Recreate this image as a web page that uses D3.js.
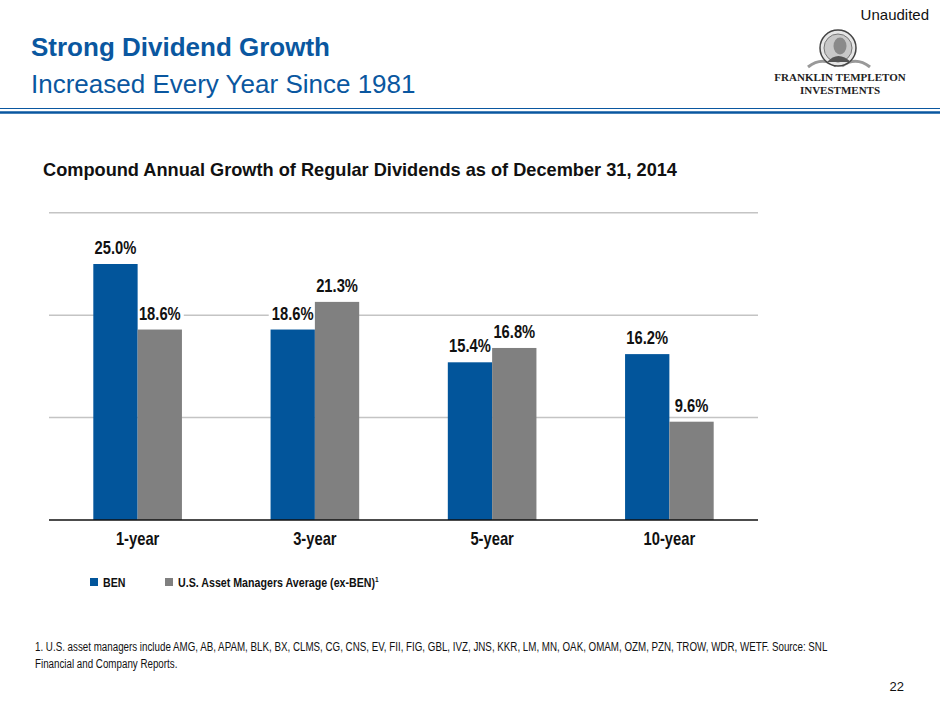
<!DOCTYPE html>
<html>
<head>
<meta charset="utf-8">
<script src="https://cdn.jsdelivr.net/npm/d3@7"></script>
<style>
  html, body { margin: 0; padding: 0; background: #fff; }
  svg { display: block; }
  .sans, .narrow { font-family: Arial, "Liberation Sans", Helvetica, sans-serif; }
  .serif { font-family: "Liberation Serif", "Times New Roman", serif; }
</style>
</head>
<body>
<svg id="chart" width="940" height="705"></svg>
<script>
// ---- data ----
const categories = ["1-year", "3-year", "5-year", "10-year"];
const seriesNames = ["BEN", "U.S. Asset Managers Average (ex-BEN)"];
const benValues = [25.0, 18.6, 15.4, 16.2];
const peerValues = [18.6, 21.3, 16.8, 9.6];
const yTicks = [10, 20, 30];

const colors = ["#02559b", "#808080"];
const NARROW = 0.82;

const svg = d3.select("#chart");

// narrow text helper: positioned via transform, horizontally compressed
function narrowText(sel, x, yy, s) {
  return sel.append("text").attr("class", "narrow")
    .attr("transform", `translate(${x},${yy}) scale(${s || NARROW},1)`);
}

// ---- header ----
svg.append("text").attr("class", "sans").attr("x", 31).attr("y", 56)
  .attr("font-size", 26).attr("font-weight", "bold").attr("fill", "#0a57a0")
  .text("Strong Dividend Growth");
svg.append("text").attr("class", "sans").attr("x", 31).attr("y", 93)
  .attr("font-size", 26).attr("fill", "#0a57a0")
  .text("Increased Every Year Since 1981");
svg.append("line").attr("x1", 0).attr("x2", 940).attr("y1", 108.5).attr("y2", 108.5)
  .attr("stroke", "#0a57a0").attr("stroke-width", 1);
svg.append("line").attr("x1", 0).attr("x2", 940).attr("y1", 112.5).attr("y2", 112.5)
  .attr("stroke", "#0a57a0").attr("stroke-width", 2.5);

svg.append("text").attr("class", "sans").attr("x", 929).attr("y", 20)
  .attr("text-anchor", "end").attr("font-size", 15).attr("fill", "#111")
  .text("Unaudited");

// logo (simplified medallion)
const logo = svg.append("g");
logo.append("path").attr("d", "M808,67 Q822,56 836,66 M870,67 Q856,56 842,66")
  .attr("fill", "none").attr("stroke", "#999").attr("stroke-width", 3);
logo.append("ellipse").attr("cx", 838).attr("cy", 48).attr("rx", 18).attr("ry", 18)
  .attr("fill", "#e6e6e6").attr("stroke", "#444").attr("stroke-width", 1.5);
logo.append("ellipse").attr("cx", 838).attr("cy", 48).attr("rx", 14).attr("ry", 14)
  .attr("fill", "#c8c8c8").attr("stroke", "#777").attr("stroke-width", 1);
logo.append("ellipse").attr("cx", 840).attr("cy", 46).attr("rx", 6.5).attr("ry", 8.5)
  .attr("fill", "#8a8a8a");
logo.append("path").attr("d", "M827,62 Q838,50 851,62 Z").attr("fill", "#555");
logo.append("text").attr("class", "serif").attr("x", 840).attr("y", 81)
  .attr("text-anchor", "middle").attr("font-size", 11).attr("font-weight", "bold")
  .attr("fill", "#222").text("FRANKLIN TEMPLETON");
logo.append("text").attr("class", "serif").attr("x", 840).attr("y", 94)
  .attr("text-anchor", "middle").attr("font-size", 11).attr("font-weight", "bold")
  .attr("fill", "#222").text("INVESTMENTS");

// chart title
svg.append("text").attr("class", "sans").attr("x", 43).attr("y", 176)
  .attr("font-size", 18.2).attr("font-weight", "bold").attr("fill", "#111")
  .text("Compound Annual Growth of Regular Dividends as of December 31, 2014");

// ---- scales ----
const x0 = d3.scaleBand().domain(categories).range([49, 758])
  .paddingInner(0.5).paddingOuter(0.25);
const x1 = d3.scaleBand().domain([0, 1]).range([0, x0.bandwidth()]);
const y = d3.scaleLinear().domain([0, 30]).range([520, 212.8]);

// layers
const gridL = svg.append("g");
const bgL = svg.append("g");
const barL = svg.append("g");
const lblL = svg.append("g");

// gridlines
gridL.selectAll("line").data(yTicks).join("line")
  .attr("x1", 49).attr("x2", 758)
  .attr("y1", d => y(d)).attr("y2", d => y(d))
  .attr("stroke", "#c4c4c4").attr("stroke-width", 1.5);

const rows = categories.map((c, i) => ({ cat: c, vals: [benValues[i], peerValues[i]] }));
const pts = rows.flatMap(r => r.vals.map((v, k) => ({ cat: r.cat, v, k })));
const cx = d => x0(d.cat) + x1(d.k) + x1.bandwidth() / 2;

// label backgrounds (hide gridlines behind labels)
bgL.selectAll("rect").data(pts).join("rect")
  .attr("x", d => cx(d) - 24).attr("y", d => y(d.v) - 26)
  .attr("width", 48).attr("height", 18).attr("fill", "#fff");

// bars
barL.selectAll("rect").data(pts).join("rect")
  .attr("x", d => x0(d.cat) + x1(d.k)).attr("width", x1.bandwidth())
  .attr("y", d => y(d.v)).attr("height", d => y(0) - y(d.v))
  .attr("fill", d => colors[d.k]);

// value labels
pts.forEach(d => {
  narrowText(lblL, cx(d), y(d.v) - 10)
    .attr("text-anchor", "middle").attr("font-size", 18).attr("font-weight", "bold")
    .attr("fill", "#111").text(d.v.toFixed(1) + "%");
});

// x axis
const xAxis = svg.append("g").attr("transform", `translate(0,${y(0)})`)
  .call(d3.axisBottom(x0).tickSize(0).tickPadding(12));
xAxis.select(".domain").attr("stroke", "#111").attr("stroke-width", 1.5)
  .attr("d", "M49,0H758");
xAxis.selectAll(".tick text").attr("class", "narrow").attr("font-size", 18)
  .attr("font-weight", "bold").attr("fill", "#111")
  .attr("y", 0).attr("dy", 0)
  .attr("transform", `translate(0,25) scale(${NARROW},1)`);

// legend
const legendX = [90, 165];
const lg = svg.append("g").selectAll("g").data(seriesNames).join("g")
  .attr("transform", (d, i) => `translate(${legendX[i]},578)`);
lg.append("rect").attr("width", 8).attr("height", 8).attr("fill", (d, i) => colors[i]);
const lt = lg.append("text").attr("class", "narrow")
  .attr("transform", `translate(13,8.5) scale(${NARROW},1)`)
  .attr("font-size", 13).attr("font-weight", "bold").attr("fill", "#111")
  .text(d => d);
lt.filter((d, i) => i === 1).append("tspan").attr("font-size", 8).attr("dy", -5).text("1");

// footnote
const fn1 = narrowText(svg, 35, 651).attr("font-size", 12.5).attr("fill", "#111")
  .text("1.  U.S. asset managers include AMG, AB, APAM, BLK, BX, CLMS, CG, CNS, EV, FII, FIG, GBL, IVZ, JNS, KKR, LM, MN, OAK, OMAM, OZM, PZN, TROW, WDR, WETF. Source: SNL");
const natural = fn1.node().getComputedTextLength();
const fnScale = natural > 0 ? 792 / natural : NARROW;
fn1.attr("transform", `translate(35,651) scale(${fnScale},1)`);
narrowText(svg, 35, 668, fnScale).attr("font-size", 12.5).attr("fill", "#111")
  .text("Financial and Company Reports.");

svg.append("text").attr("class", "sans").attr("x", 904).attr("y", 691)
  .attr("text-anchor", "end").attr("font-size", 13).attr("fill", "#111").text("22");
</script>
</body>
</html>
